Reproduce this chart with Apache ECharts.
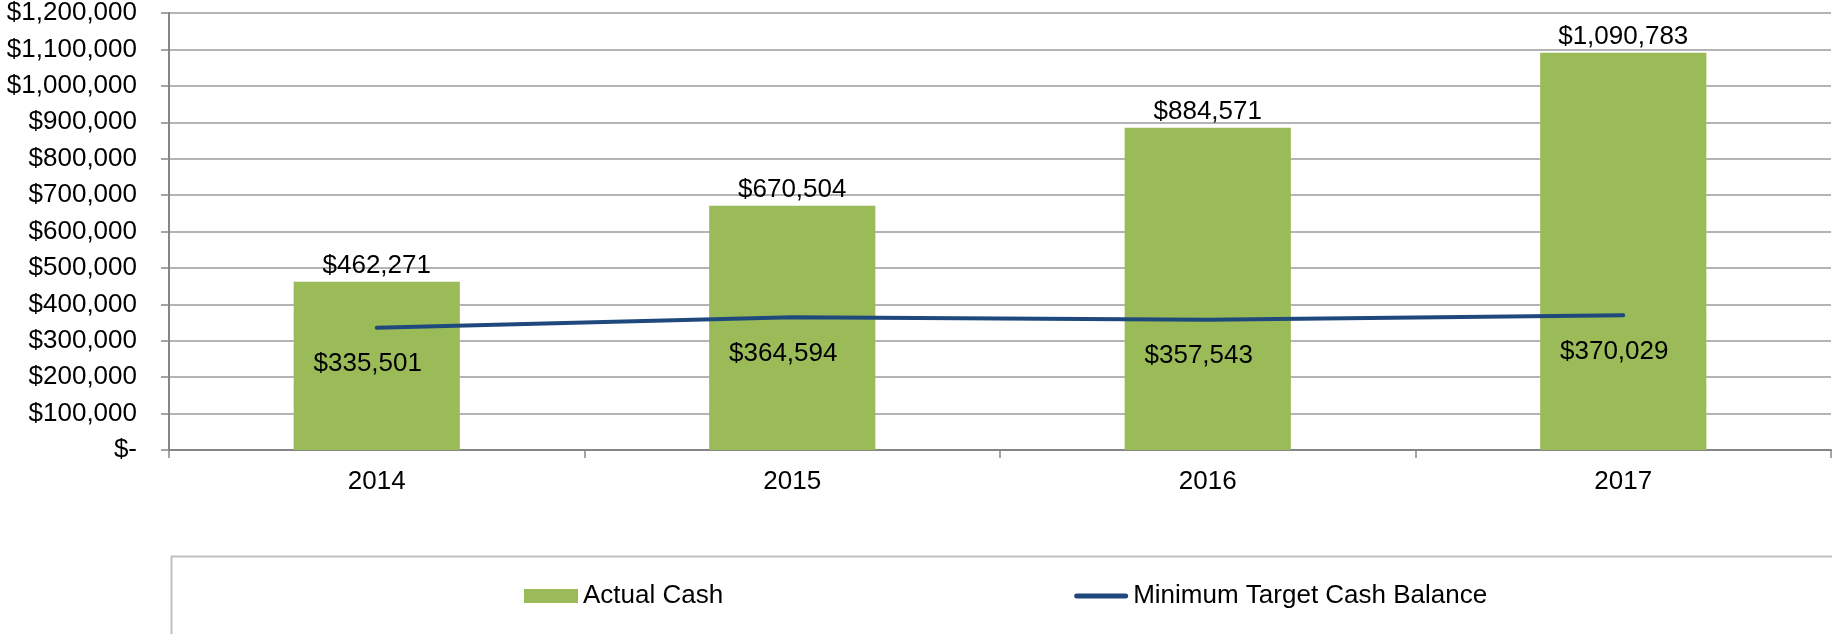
<!DOCTYPE html>
<html lang="en">
<head>
    <meta charset="utf-8"/>
    <title>Actual Cash vs Minimum Target Cash Balance</title>
    <script src="https://cdn.jsdelivr.net/npm/echarts@6/dist/echarts.min.js"></script>
    <style>
        html, body { margin: 0; padding: 0; background: #fff; }
        #cashChart { width: 1832px; height: 634px; }
    </style>
</head>
<body>
    <div id="cashChart"></div>
    <script>
        // data
        const years = ['2014', '2015', '2016', '2017'];
        const actualCash = [462271, 670504, 884571, 1090783];
        const minTargetCash = [335501, 364594, 357543, 370029];
        const seriesNames = ['Actual Cash', 'Minimum Target Cash Balance'];

        const FONT = "'Liberation Sans', Arial, sans-serif";

        function money(v) {
            if (v === 0) return '$-';
            return '$' + String(v).replace(/\B(?=(\d{3})+(?!\d))/g, ',');
        }

        const chart = echarts.init(document.getElementById('cashChart'), null, {renderer: 'canvas'});
        const option = {
            animation: false,
            textStyle: { fontFamily: FONT, color: '#000' },
            grid: { left: 169, right: 1, top: 13, bottom: 184 },
            legend: {
                left: 519,
                top: 578,
                itemWidth: 54,
                itemHeight: 14,
                itemGap: 351,
                textStyle: { fontFamily: FONT, fontSize: 26, color: '#000' },
                data: [
                    { name: seriesNames[0], icon: 'rect' },
                    { name: seriesNames[1], icon: 'path://M2.5,0 H51.5 A2.5,2.5 0 0 1 51.5,5 H2.5 A2.5,2.5 0 0 1 2.5,0 Z' }
                ]
            },
            graphic: [{
                type: 'rect',
                left: 169,
                top: 554,
                shape: { width: 1700, height: 79 },
                style: { fill: 'none', stroke: '#BFBFBF', lineWidth: 2 },
                silent: true
            }],
            xAxis: {
                type: 'category',
                data: years,
                axisLine: { lineStyle: { color: '#868686', width: 2 } },
                axisTick: { show: true, length: 8, lineStyle: { color: '#868686', width: 1.5 } },
                axisLabel: { fontSize: 26, color: '#000', margin: 19, fontFamily: FONT }
            },
            yAxis: {
                type: 'value',
                min: 0,
                max: 1200000,
                interval: 100000,
                axisLine: { show: true, lineStyle: { color: '#868686', width: 2 } },
                axisTick: { show: true, length: 8, lineStyle: { color: '#868686', width: 1.5 } },
                splitLine: { lineStyle: { color: '#B4B4B4', width: 2 } },
                axisLabel: { fontSize: 26, color: '#000', margin: 32, fontFamily: FONT, formatter: money }
            },
            series: [
                {
                    name: seriesNames[0],
                    type: 'bar',
                    data: actualCash,
                    barWidth: '40%',
                    itemStyle: { color: '#9BBB59' },
                    label: {
                        show: true,
                        position: 'top',
                        distance: 3,
                        fontSize: 26,
                        color: '#000',
                        fontFamily: FONT,
                        formatter: p => money(p.value)
                    }
                },
                {
                    name: seriesNames[1],
                    type: 'line',
                    data: minTargetCash,
                    symbol: 'circle',
                    symbolSize: 1,
                    showSymbol: true,
                    itemStyle: { color: '#1F497D' },
                    lineStyle: { color: '#1F497D', width: 4, cap: 'round' },
                    label: {
                        show: true,
                        position: 'bottom',
                        distance: 23,
                        offset: [-9, 0],
                        fontSize: 26,
                        color: '#000',
                        fontFamily: FONT,
                        formatter: p => money(p.value)
                    }
                }
            ]
        };
        chart.setOption(option);
    </script>
</body>
</html>
